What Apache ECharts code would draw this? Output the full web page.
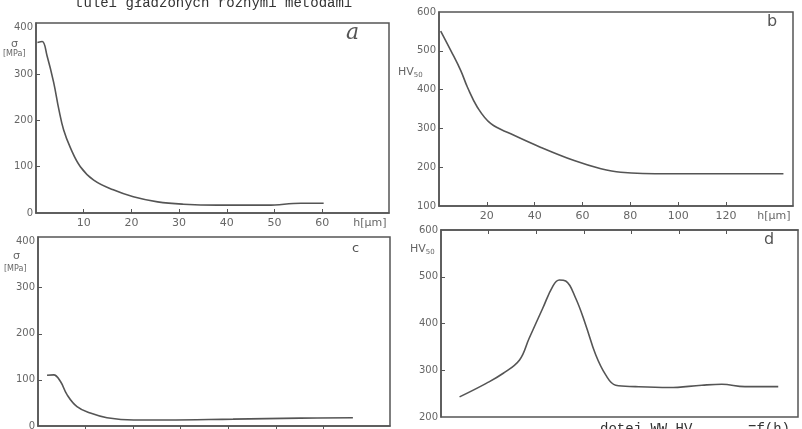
<!DOCTYPE html>
<html>
<head>
<meta charset="utf-8">
<script src="https://cdn.jsdelivr.net/npm/echarts@6/dist/echarts.min.js"></script>
<style>
  html, body { margin: 0; padding: 0; background: #fff; }
  #chart { width: 802px; height: 429px; }
</style>
</head>
<body>
<div id="chart"></div>
<script>
// panel a: sigma [MPa] vs h [um]
const hA = [0.3, 1.3, 2.3, 3.7, 4.8, 5.8, 7.2, 9.3, 12.1, 16.2, 20.4, 25.5, 30.9, 38, 48.5, 55.5, 60.3]
const sigmaA = [368, 370, 340, 282, 223, 179, 141, 100, 71, 50, 35, 24, 19, 17, 17, 21, 21]

// panel b: HV50 vs h [um]
const hB = [0.7, 5, 9.1, 11.9, 16.1, 21.7, 30, 42.6, 56.5, 67.7, 76, 95.6, 123, 144]
const hvB = [551, 500, 449, 406, 354, 312, 286, 251, 217, 196, 187, 183, 183, 183]

// panel c: sigma [MPa] vs h [um]
const hC = [1.9, 3.3, 4.7, 6.1, 8.2, 11, 14.5, 20.1, 27.1, 41, 55.1, 66.2]
const sigmaC = [110, 111, 97, 68, 42, 28, 18, 13, 13, 15, 17, 18]

// panel d: HV50 vs h [um]
const hD = [7.8, 19, 26, 33, 37, 42.7, 46.9, 49.7, 52.4, 56.6, 60.8, 65, 69.2, 73.4, 81.7, 95.7, 109.6, 118, 127.7, 141.7]
const hvD = [243, 272, 293, 322, 368, 432, 479, 493, 491, 454, 397, 333, 290, 268, 265, 263, 268, 270, 265, 265]

// tick labels
const ticksSmallH = [10, 20, 30, 40, 50, 60]
const ticksLargeH = [20, 40, 60, 80, 100, 120]
const ticksSigma = [0, 100, 200, 300, 400]
const ticksHvB = [100, 200, 300, 400, 500, 600]
const ticksHvD = [200, 300, 400, 500, 600]

const zip = (xs, ys) => xs.map((x, i) => [x, ys[i]])

const ink = '#555'
const labelColor = '#666'
const labelFont = 'DejaVu Sans'

const grid = (left, top, width, height) => ({
  left, top, width, height,
  show: true,
  borderColor: ink,
  borderWidth: 1.5,
  backgroundColor: 'transparent',
  outerBoundsMode: 'none'
})

const xAx = (idx, max, ticks, pos, endValue, showLabels) => ({
  type: 'value',
  gridIndex: idx,
  min: 0,
  max,
  position: pos,
  splitLine: { show: false },
  axisLine: { show: true, lineStyle: { color: ink, width: 1.5 } },
  axisTick: { show: true, inside: true, length: 4, customValues: ticks, lineStyle: { color: ink } },
  axisLabel: {
    show: showLabels,
    customValues: ticks.concat([endValue]),
    formatter: v => (v === endValue ? 'h[μm]' : String(v)),
    color: labelColor,
    fontFamily: labelFont,
    fontSize: 11,
    margin: 5
  }
})

const yAx = (idx, min, max, labels) => ({
  type: 'value',
  gridIndex: idx,
  min,
  max,
  splitLine: { show: false },
  axisLine: { show: true, lineStyle: { color: ink, width: 1.5 } },
  axisTick: { show: true, inside: true, length: 4, customValues: labels.slice(1, -1), lineStyle: { color: ink } },
  axisLabel: {
    customValues: labels,
    color: labelColor,
    fontFamily: labelFont,
    fontSize: 10,
    margin: 3
  }
})

const curve = (idx, data) => ({
  type: 'line',
  xAxisIndex: idx,
  yAxisIndex: idx,
  data,
  smooth: 0.4,
  showSymbol: false,
  silent: true,
  lineStyle: { color: ink, width: 1.6 }
})

const txt = (left, top, text, extra) => ({
  type: 'text',
  left, top,
  style: Object.assign({ text, fill: labelColor, font: '10px "DejaVu Sans"' }, extra || {})
})

const hvName = (left, top) => ({
  type: 'text', left, top,
  style: {
    text: '{a|HV}{s|50}',
    rich: {
      a: { fill: labelColor, fontSize: 11, fontFamily: labelFont },
      s: { fill: labelColor, fontSize: 7, fontFamily: labelFont, padding: [6, 0, 0, 0] }
    }
  }
})

const chart = echarts.init(document.getElementById('chart'))

chart.setOption({
  animation: false,
  backgroundColor: '#fff',
  grid: [
    grid(36, 23, 353, 190),
    grid(439, 12, 354, 194),
    grid(38, 237, 352, 189),
    grid(441, 230, 357, 187)
  ],
  xAxis: [
    xAx(0, 74, ticksSmallH, 'bottom', 70, true),
    xAx(1, 148, ticksLargeH, 'bottom', 140, true),
    xAx(2, 74, ticksSmallH, 'top', 70, false),
    xAx(3, 150, ticksLargeH, 'top', 140, false)
  ],
  yAxis: [
    yAx(0, 0, 410, ticksSigma),
    yAx(1, 100, 600, ticksHvB),
    yAx(2, 0, 410, ticksSigma),
    yAx(3, 200, 600, ticksHvD)
  ],
  series: [
    curve(0, zip(hA, sigmaA)),
    curve(1, zip(hB, hvB)),
    curve(2, zip(hC, sigmaC)),
    curve(3, zip(hD, hvD))
  ],
  graphic: [
    txt(75, -4, 'tulei gładzonych różnymi metodami', { fill: '#333', font: '14px "Liberation Mono"' }),
    txt(600, 422, 'dotej WW HV', { fill: '#333', font: '14px "Liberation Mono"' }),
    txt(748, 422, '=f(h)', { fill: '#333', font: '14px "Liberation Mono"' }),
    // panel letters
    txt(346, 22, 'a', { fill: ink, font: 'italic 22px "DejaVu Serif"' }),
    txt(767, 14, 'b', { fill: ink, font: '16px "DejaVu Sans"' }),
    txt(352, 242, 'c', { fill: ink, font: '13px "DejaVu Sans"' }),
    txt(764, 232, 'd', { fill: ink, font: '16px "DejaVu Sans"' }),
    // axis names
    txt(11, 39, 'σ', { font: '11px "DejaVu Sans"' }),
    txt(3, 50, '[MPa]', { font: '8px "DejaVu Sans"' }),
    txt(13, 251, 'σ', { font: '11px "DejaVu Sans"' }),
    txt(4, 265, '[MPa]', { font: '8px "DejaVu Sans"' }),
    hvName(398, 67),
    hvName(410, 244)
  ]
})
</script>
</body>
</html>
